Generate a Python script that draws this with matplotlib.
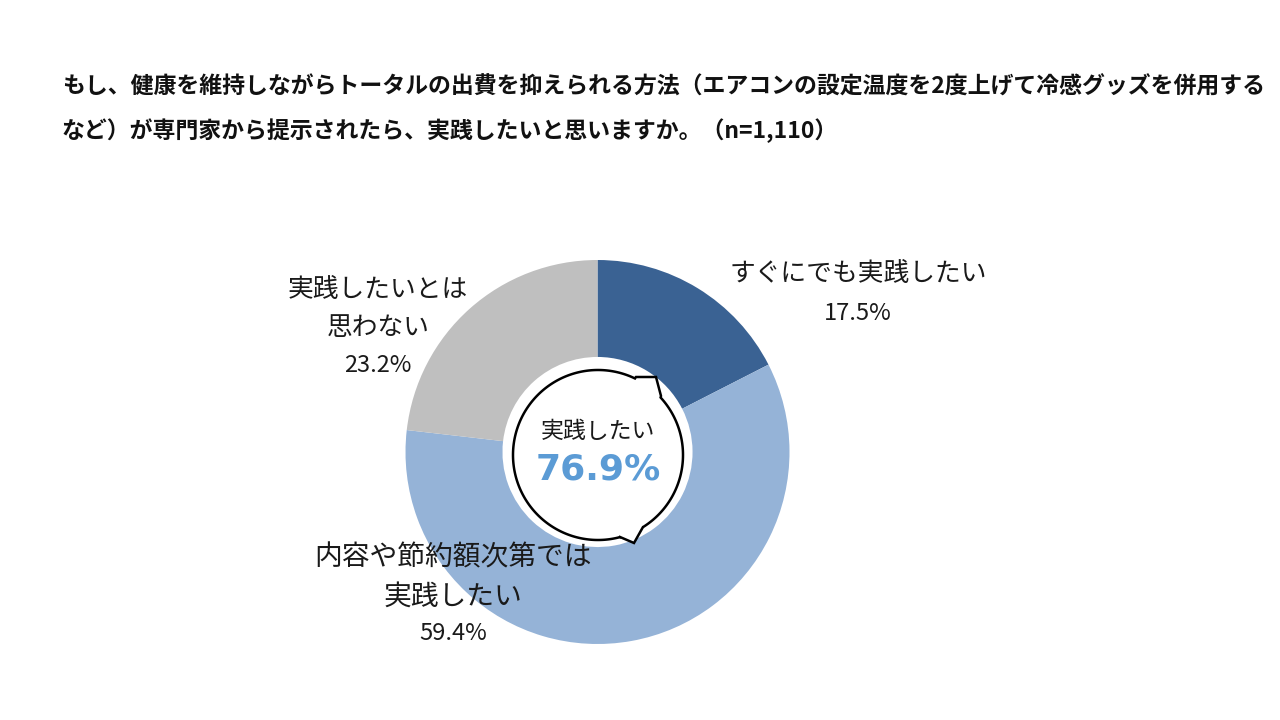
import numpy as np
import matplotlib
matplotlib.use("Agg")
import matplotlib.pyplot as plt
from matplotlib.patches import Polygon

plt.rcParams['font.family'] = ['Noto Sans CJK JP', 'DejaVu Sans']

title_lines = ["もし、健康を維持しながらトータルの出費を抑えられる方法（エアコンの設定温度を2度上げて冷感グッズを併用する",
               "など）が専門家から提示されたら、実践したいと思いますか。（n=1,110）"]
categories = ["すぐにでも実践したい", "内容や節約額次第では\n実践したい", "実践したいとは\n思わない"]
values = [17.5, 59.4, 23.2]
colors = ["#3A6293", "#95B3D7", "#BFBFBF"]
center_label = "実践したい"
center_value = "76.9%"

W, H = 1280, 720
fig = plt.figure(figsize=(12.8, 7.2), dpi=100)
ax = fig.add_axes([0, 0, 1, 1])

def Y(y):  # pixel-from-top to axis coords
    return H - y

cx, cy, R = 597.5, 452, 192
ax.pie(values, colors=colors, startangle=90, counterclock=False,
       center=(cx, Y(cy)), radius=R,
       wedgeprops=dict(width=R * 0.505, edgecolor='none'))
ax.set_xlim(0, W)
ax.set_ylim(0, H)
ax.set_aspect('equal')
ax.axis('off')

# speech bubble in the centre
bx, by, br = 598, 455, 85
angles = np.linspace(0, 2 * np.pi, 500)

def ang(x, y):
    return np.arctan2(-(y - by), x - bx) % (2 * np.pi)

top_tail = [(661, 396), (656, 377), (636, 377)]
bot_tail = [(620, 537), (634, 543), (643, 527)]
top_a0, top_a1 = ang(*top_tail[0]), ang(*top_tail[-1])
bot_a0, bot_a1 = ang(*bot_tail[0]), ang(*bot_tail[-1])
# in math angles the bottom tail goes from (620,537) [larger angle] to (643,527)
bot_lo, bot_hi = min(bot_a0, bot_a1), max(bot_a0, bot_a1)
poly = []
for a in angles:
    if top_a0 < a < top_a1:
        continue
    if bot_lo < a < bot_hi:
        continue
    poly.append((a, bx + br * np.cos(a), by - br * np.sin(a)))

path = []
inserted_top = inserted_bot = False
for a, x, y in poly:
    if not inserted_top and a >= top_a1:
        path += top_tail
        inserted_top = True
    if not inserted_bot and a >= bot_hi:
        path += bot_tail[::-1] if bot_a0 > bot_a1 else bot_tail
        inserted_bot = True
    path.append((x, y))
path = np.array(path, dtype=float)
path_m = np.column_stack([path[:, 0], H - path[:, 1]])
ax.add_patch(Polygon(path_m, closed=True, facecolor='white', edgecolor='black',
                     linewidth=1.8, zorder=5))

ax.text(598, Y(431), center_label, ha='center', va='center', fontsize=16.5,
        color='#1a1a1a', zorder=6)
ax.text(598, Y(470), center_value, ha='center', va='center', fontsize=26,
        fontweight='bold', color='#5B9BD5', zorder=6, family='DejaVu Sans')

# slice labels
lab_fs = 18.5
pct_fs = 17
ax.text(858, Y(274), "すぐにでも実践したい", ha='center', va='center', fontsize=lab_fs, color='#1a1a1a')
ax.text(858, Y(313), f"{values[0]}%", ha='center', va='center', fontsize=pct_fs, color='#1a1a1a')

ax.text(378, Y(290), "実践したいとは", ha='center', va='center', fontsize=lab_fs, color='#1a1a1a')
ax.text(378, Y(328), "思わない", ha='center', va='center', fontsize=lab_fs, color='#1a1a1a')
ax.text(378, Y(366), f"{values[2]}%", ha='center', va='center', fontsize=pct_fs, color='#1a1a1a')

ax.text(453, Y(557), "内容や節約額次第では", ha='center', va='center', fontsize=20, color='#1a1a1a')
ax.text(453, Y(597), "実践したい", ha='center', va='center', fontsize=20, color='#1a1a1a')
ax.text(453, Y(634), f"{values[1]}%", ha='center', va='center', fontsize=pct_fs, color='#1a1a1a')

# title
ax.text(62, Y(87), title_lines[0], ha='left', va='center', fontsize=16.5,
        fontweight='bold', color='#111111')
ax.text(62, Y(131), title_lines[1], ha='left', va='center', fontsize=16.5,
        fontweight='bold', color='#111111')

fig.savefig("out.png", dpi=100, facecolor='white')
